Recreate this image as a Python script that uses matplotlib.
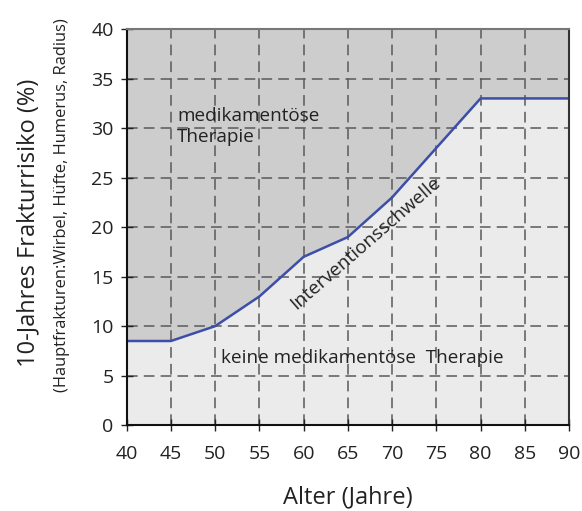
import numpy as np
import matplotlib.pyplot as plt

plt.rcParams['font.family'] = ['Open Sans', 'DejaVu Sans']

alter = [40, 45, 50, 55, 60, 65, 70, 75, 80, 90]
schwelle = [8.5, 8.5, 10, 13, 17, 19, 23, 28, 33, 33]
xticks = list(range(40, 91, 5))
yticks = list(range(0, 41, 5))

fig = plt.figure(figsize=(5.82, 5.11), dpi=100)
ax = fig.add_axes([0.2177, 0.168, 0.76, 0.775])

ax.fill_between(alter, schwelle, 40, color='#cdcdcd', zorder=0)
ax.fill_between(alter, 0, schwelle, color='#ebebeb', zorder=0)
ax.plot(alter, schwelle, color='#3c4ea8', lw=1.8, zorder=3)

ax.set_xlim(40, 90)
ax.set_ylim(0, 40)
ax.set_xticks(xticks)
ax.set_yticks(yticks)
ax.grid(True, color='#5a5a5a', linestyle=(0, (7, 4)), lw=1.1, zorder=1)
ax.set_axisbelow(False)
for ln in ax.get_xgridlines() + ax.get_ygridlines():
    ln.set_zorder(1)

ax.tick_params(direction='inout', length=9, width=1, labelsize=14, colors='#222222')
ax.tick_params(axis='x', pad=10)
ax.tick_params(axis='y', pad=5)
ax.spines['left'].set_color('#111111')
ax.spines['bottom'].set_color('#111111')
ax.spines['top'].set_color('#777777')
ax.spines['right'].set_color('#333333')
for s in ax.spines.values():
    s.set_linewidth(1.5)
    s.set_zorder(4)

ax.set_xlabel('Alter (Jahre)', fontsize=17, color='#222222', labelpad=16)
fig.text(0.048, 0.563, '10-Jahres Frakturrisiko (%)', rotation=90, fontsize=17,
         color='#222222', ha='center', va='center')
fig.text(0.106, 0.598, '(Hauptfrakturen:Wirbel, Hüfte, Humerus, Radius)', rotation=90,
         fontsize=11.9, color='#222222', ha='center', va='center')

ax.text(45.7, 30.15, 'medikamentöse\nTherapie', fontsize=13.6, color='#222222',
        ha='left', va='center', linespacing=1.2, zorder=5)
ax.text(50.7, 6.8, 'keine medikamentöse  Therapie', fontsize=13.6, color='#222222',
        ha='left', va='center', zorder=5)
ax.text(67.0, 18.4, 'Interventionsschwelle', fontsize=13.6, color='#222222',
        ha='center', va='center', rotation=41, rotation_mode='anchor', zorder=5)

fig.savefig('out.png', dpi=100)
